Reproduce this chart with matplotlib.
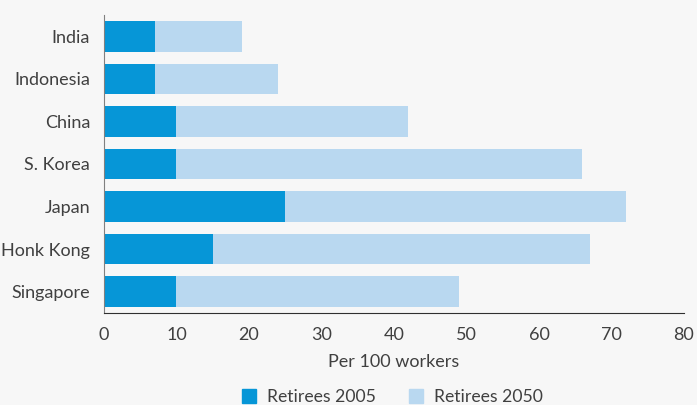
import matplotlib.pyplot as plt
from matplotlib.patches import Patch

countries = ["India", "Indonesia", "China", "S. Korea", "Japan", "Honk Kong", "Singapore"]
retirees_2005 = [7, 7, 10, 10, 25, 15, 10]
retirees_2050 = [19, 24, 42, 66, 72, 67, 49]

dark = "#0696d7"
light = "#b9d8f0"
text_col = "#404040"

plt.rcParams['font.family'] = ['Lato', 'DejaVu Sans']

fig = plt.figure(figsize=(6.97, 4.05), dpi=100, facecolor="#f7f7f7")
ax = fig.add_axes([0.1492, 0.2272, 0.8321, 0.7358])
ax.set_facecolor("#f7f7f7")

y = list(range(len(countries)))
ax.barh(y, retirees_2050, height=0.72, color=light)
ax.barh(y, retirees_2005, height=0.72, color=dark)

ax.set_yticks(y)
ax.set_yticklabels(countries)
ax.set_ylim(len(countries) - 0.5, -0.5)
ax.set_xlim(0, 80)
ax.set_xticks(range(0, 81, 10))
ax.tick_params(length=0, labelsize=13, labelcolor=text_col)
ax.tick_params(axis='x', pad=10)
ax.tick_params(axis='y', pad=10)
ax.set_xlabel("Per 100 workers", fontsize=13, color=text_col, labelpad=8)

for s in ["top", "right"]:
    ax.spines[s].set_visible(False)
ax.spines["left"].set_color("#808080")
ax.spines["bottom"].set_color("#303030")

handles = [Patch(color=dark, label="Retirees 2005"), Patch(color=light, label="Retirees 2050")]
fig.legend(handles=handles, loc="lower center", bbox_to_anchor=(0.563, -0.04), ncol=2,
           frameon=False, fontsize=12.7, labelcolor=text_col, handlelength=0.8,
           handleheight=0.8, columnspacing=1.9, handletextpad=0.6)

fig.savefig("out.png", dpi=100, facecolor=fig.get_facecolor())
